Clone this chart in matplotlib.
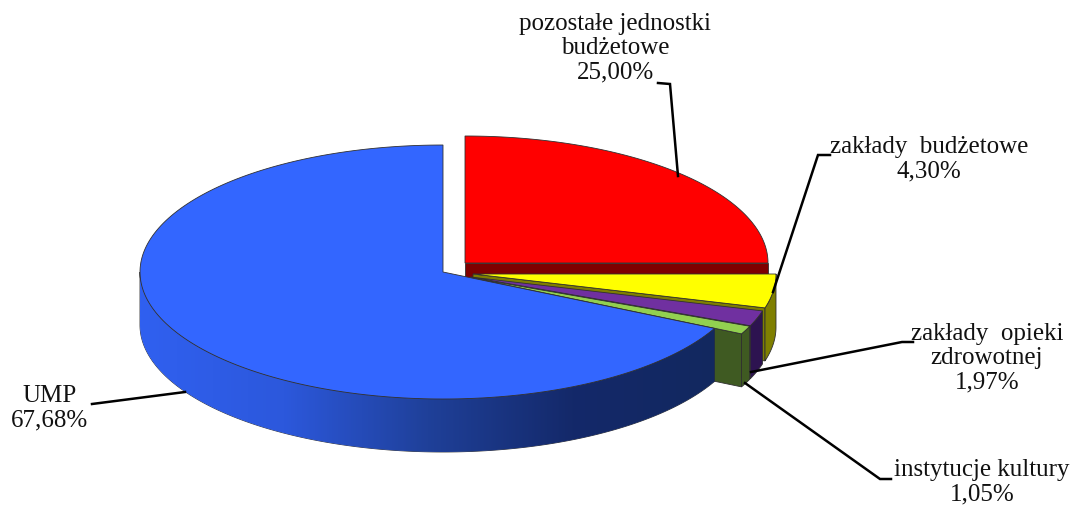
import numpy as np
import matplotlib
matplotlib.use('Agg')
import matplotlib.pyplot as plt
from matplotlib.patches import Polygon
from matplotlib.colors import LinearSegmentedColormap

plt.rcParams['font.family'] = ['Liberation Serif', 'DejaVu Serif']

# slices in drawing order round the pie, counter clockwise from the top
labels = ['UMP', 'instytucje kultury', 'zakłady  opieki\nzdrowotnej',
          'zakłady  budżetowe', 'pozostałe jednostki\nbudżetowe']
values = [67.68, 1.05, 1.97, 4.30, 25.00]
top_colors = ['#3366ff', '#92d050', '#7030a0', '#ffff00', '#ff0000']
side_colors = ['#1a3a90', '#3f5a22', '#2d1350', '#7f7f00', '#7f0000']

# pixel layout of the exploded slices
centers = [(443, 272), (470, 277.5), (470.5, 277), (473, 274), (465, 263)]
a, b = 303, 127
depth = 53

ends = 90 + np.cumsum(values) * 3.6
starts = np.r_[90, ends[:-1]]

def arc(i, t0, t1):
    t = np.radians(np.linspace(t0, t1, 200))
    cx, cy = centers[i]
    return np.c_[cx + a * np.cos(t), cy - b * np.sin(t)]

def top_poly(i):
    return np.vstack([centers[i], arc(i, starts[i], ends[i])])

def outer_wall(i, t0, t1):
    p = arc(i, t0, t1)
    return np.vstack([p, (p + [0, depth])[::-1]])

def radial_face(i, t):
    p0 = np.array(centers[i], dtype=float)
    p1 = arc(i, t, t)[0]
    return [p0, p1, p1 + [0, depth], p0 + [0, depth]]

fig = plt.figure(figsize=(10.73, 5.05), dpi=100)
ax = fig.add_axes([0, 0, 1, 1])
ax.set_xlim(0, 1073)
ax.set_ylim(505, 0)
ax.axis('off')

edge = dict(edgecolor='#303030', linewidth=0.6)

# red at the back: radial face then top
ax.add_patch(Polygon(radial_face(4, starts[4]), facecolor=side_colors[4], zorder=1, **edge))
ax.add_patch(Polygon(top_poly(4), facecolor=top_colors[4], zorder=2, **edge))

# small slices, each one in front of the previous
z = 3
for i in [3, 2, 1]:
    ax.add_patch(Polygon(radial_face(i, starts[i]), facecolor=side_colors[i], zorder=z, **edge))
    ax.add_patch(Polygon(outer_wall(i, starts[i], ends[i]), facecolor=side_colors[i], zorder=z, **edge))
    ax.add_patch(Polygon(top_poly(i), facecolor=top_colors[i], zorder=z + 1, **edge))
    z += 2

# blue wall with the light to dark shading
cmap = LinearSegmentedColormap.from_list('wall', ['#3060f0', '#2c58dc', '#1f4099', '#14296a', '#12285f'])
wall = Polygon(outer_wall(0, 180, ends[0]), facecolor='none', zorder=z, **edge)
ax.add_patch(wall)
grad = ax.imshow(np.linspace(0, 1, 256)[None, :], extent=(140, 716, 505, 0), cmap=cmap,
                 aspect='auto', zorder=z)
grad.set_clip_path(wall)
ax.set_xlim(0, 1073)
ax.set_ylim(505, 0)
ax.add_patch(Polygon(top_poly(0), facecolor=top_colors[0], zorder=z + 1, **edge))

# leaders
leaders = [[(92, 404), (185, 392)],
           [(891, 479), (880, 479), (745, 383)],
           [(913, 342), (902, 342), (751, 372)],
           [(830, 155), (818, 155), (773, 292)],
           [(658, 83), (670, 84), (678, 176)]]
for pts in leaders:
    xs, ys = zip(*pts)
    ax.plot(xs, ys, color='black', lw=1.8, zorder=z + 2, solid_joinstyle='miter')

texts = [('%s\n%.2f%%' % (l, v)).replace('.', ',') for l, v in zip(labels, values)]
text_pos = [(50, 408), (982, 482), (987, 358), (929, 159), (615, 48)]
for t, (x, y) in zip(texts, text_pos):
    ax.text(x, y, t, ha='center', va='center', fontsize=18, linespacing=1.12, color='#111111', zorder=z + 3)

fig.savefig('out.png', dpi=100)
